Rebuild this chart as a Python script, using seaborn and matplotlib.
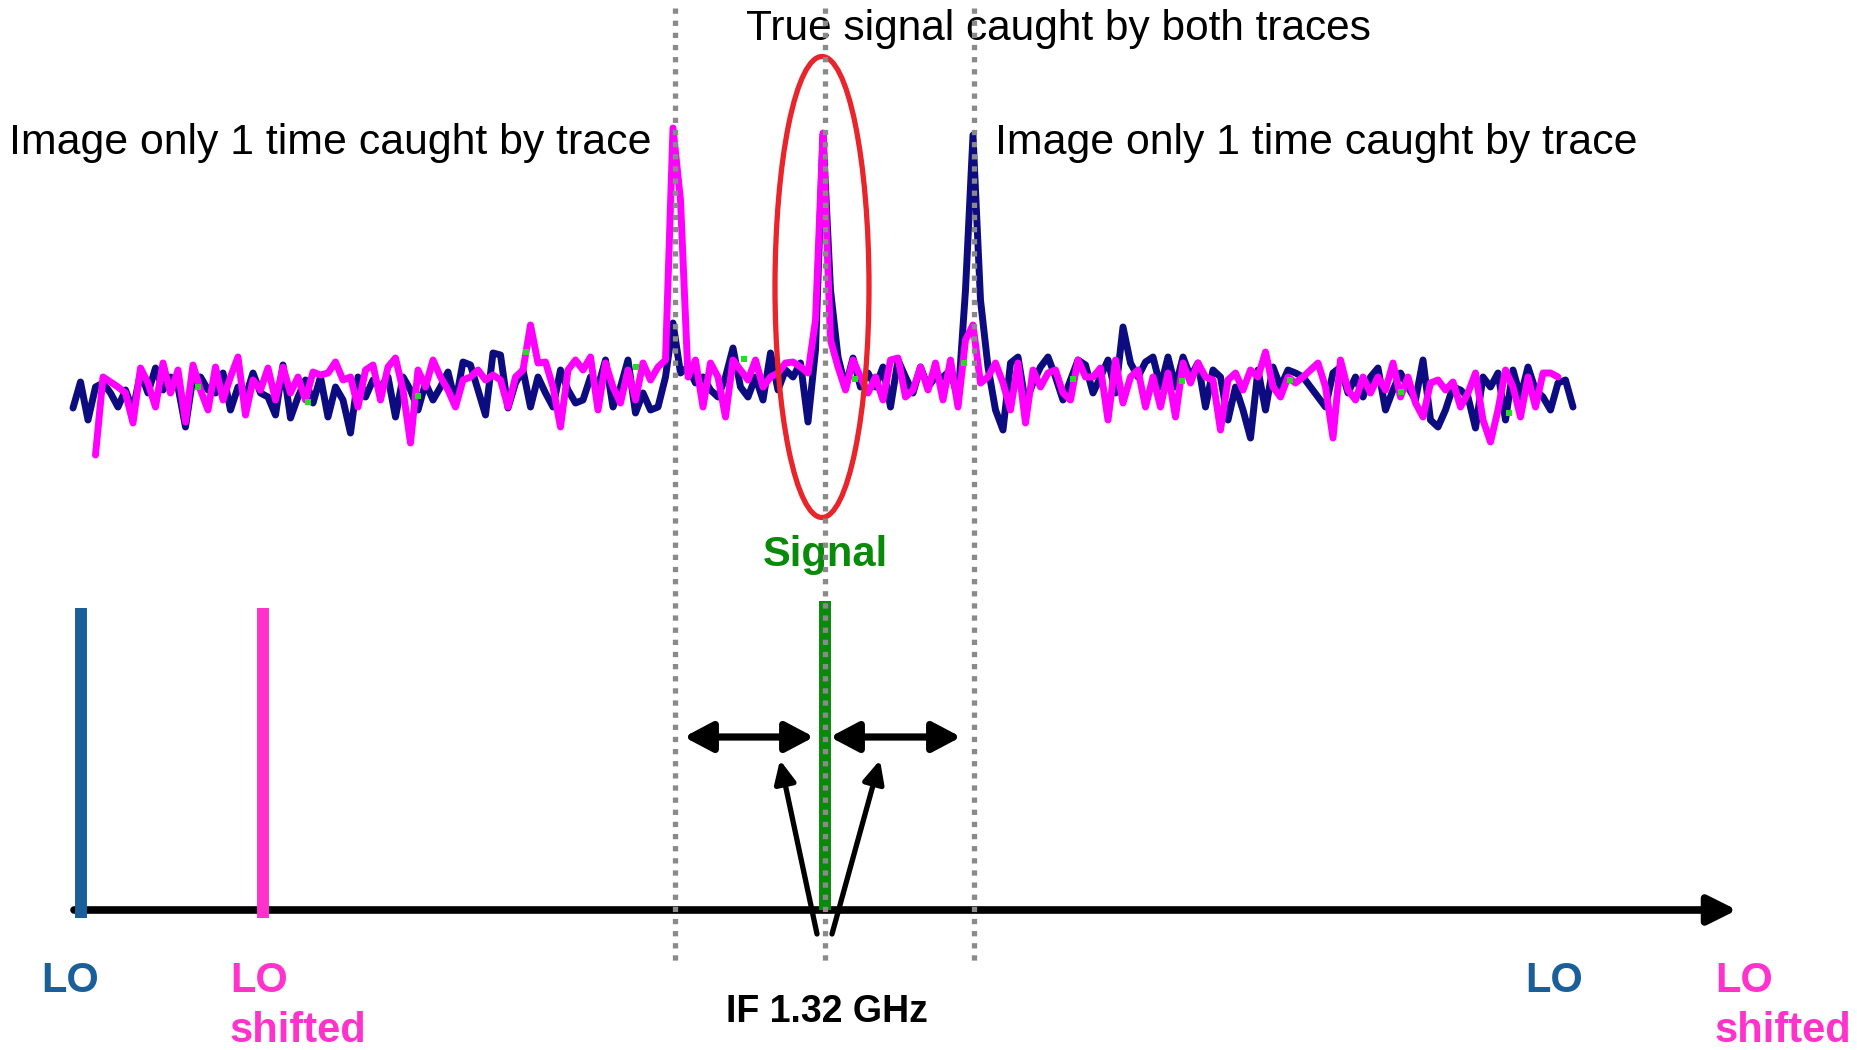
import numpy as np
import pandas as pd
import matplotlib
matplotlib.use("Agg")
import matplotlib.pyplot as plt
import seaborn as sns
from matplotlib.patches import Ellipse

sns.set_theme(style="white")
plt.rcParams['font.family'] = ['Liberation Sans', 'DejaVu Sans']

# ---------------- data (diagram units: horizontal = frequency axis, vertical = level, down is lower) -------------
trace_x = np.linspace(73, 1573, 201)          # frequency bins of the spectrum traces

trace_lo = [  # navy trace (LO)
    408, 382, 420, 387, 383, 393, 407, 390, 410, 373,
    393, 368, 390, 377, 387, 427, 377, 377, 390, 393,
    373, 410, 387, 397, 373, 393, 397, 415, 365, 418,
    397, 380, 403, 377, 417, 387, 400, 433, 377, 397,
    380, 387, 377, 417, 377, 390, 410, 383, 400, 387,
    372, 403, 362, 365, 390, 415, 353, 355, 408, 383,
    370, 407, 377, 393, 407, 370, 390, 403, 400, 377,
    387, 360, 407, 387, 360, 413, 393, 410, 407, 377,
    323, 373, 367, 383, 377, 390, 397, 377, 348, 387,
    397, 377, 400, 353, 390, 370, 377, 363, 422, 350,
    135, 290, 357, 387, 358, 387, 373, 387, 367, 407,
    360, 377, 393, 367, 387, 377, 377, 370, 400, 290,
    135, 300, 367, 410, 430, 363, 357, 403, 383, 367,
    357, 377, 400, 380, 360, 365, 393, 377, 360, 393,
    327, 363, 377, 362, 357, 387, 357, 387, 357, 377,
    363, 407, 370, 377, 420, 387, 410, 438, 370, 410,
    367, 387, 370, 373, 377, 387, 397, 407, 373, 367,
    393, 377, 397, 377, 368, 410, 390, 373, 387, 400,
    360, 420, 427, 410, 387, 390, 397, 428, 377, 387,
    373, 420, 370, 397, 367, 390, 397, 410, 383, 380,
    407]

nan = np.nan
trace_lo_shifted = [  # magenta trace (LO shifted)
    nan, nan, nan, 455, 377, 382, 387, 393, 423, 368,
    383, 407, 363, 393, 370, 422, 365, 390, 410, 367,
    400, 377, 357, 415, 380, 390, 368, 400, 367, 393,
    377, 400, 372, 375, 373, 362, 380, 377, 407, 370,
    365, 400, 367, 358, 390, 443, 370, 387, 360, 377,
    390, 407, 380, 377, 370, 380, 375, 380, 407, 377,
    370, 325, 363, 362, 387, 427, 370, 360, 370, 357,
    410, 363, 387, 403, 370, 400, 363, 380, 367, 360,
    128, 200, 377, 360, 407, 363, 377, 417, 360, 370,
    380, 360, 387, 377, 373, 363, 362, 367, 373, 320,
    133, 340, 367, 390, 360, 377, 393, 377, 400, 360,
    358, 397, 390, 367, 390, 363, 400, 360, 407, 340,
    325, 383, 377, 363, 383, 410, 363, 423, 370, 387,
    373, 370, 393, 400, 360, 377, 377, 368, 420, 360,
    403, 377, 370, 407, 377, 407, 373, 417, 363, 383,
    363, 377, 380, 430, 380, 373, 390, 370, 377, 352,
    387, 397, 377, 383, 377, 370, 363, 387, 438, 360,
    390, 400, 377, 393, 377, 390, 363, 397, 377, 403,
    417, 383, 380, 390, 382, 407, 393, 373, 420, 442,
    410, 370, 387, 417, 377, 407, 373, 373, 377, nan,
    nan]

marker_x = [198, 308, 418, 526, 636, 744, 855, 964, 1073, 1182, 1290, 1401, 1509]
marker_y = [387, 402, 396, 352, 367, 359, 379, 363, 379, 381, 380, 392, 413]

# frequency markers (image, true signal, image)
freq_lines = [675, 825, 974]
signal_freq = 825
lo_freqs = [81, 263]
lo_names = ["LO", "LO shifted"]

# ---------------- figure ----------------
fig = plt.figure(figsize=(18.58, 10.5), dpi=100)
ax = fig.add_axes([0, 0, 1, 1])

navy = "#0c0c80"
magenta = "#ff00ff"
lo_blue = "#1a5e9a"
lo_pink = "#ff33cc"
green = "#0a8a0a"
gray = "#8a8a8a"

df = pd.DataFrame({
    "freq": np.concatenate([trace_x, trace_x]),
    "level": np.array(trace_lo + trace_lo_shifted, dtype=float),
    "trace": ["LO"] * len(trace_lo) + ["LO shifted"] * len(trace_lo_shifted),
})
sns.lineplot(data=df, x="freq", y="level", hue="trace", hue_order=lo_names,
             palette={"LO": navy, "LO shifted": magenta}, estimator=None,
             sort=False, lw=5.0, legend=False, ax=ax, zorder=2,
             solid_joinstyle="round", solid_capstyle="round")
ax.scatter(marker_x, marker_y, marker="s", s=14, color="#22dd22", zorder=2.5, linewidths=0)
ax.set_xlim(0, 1858)
ax.set_ylim(1050, 0)
ax.axis("off")

# red ellipse around the true signal
ax.add_patch(Ellipse((822, 287), 94, 461, fill=False, ec="#e8252b", lw=3.8, zorder=3))

# LO bars and signal bar
ax.vlines(lo_freqs, 608, 918, colors=[lo_blue, lo_pink], lw=8.6, zorder=3)
ax.vlines([signal_freq], 601, 910, colors=[green], lw=8.6, zorder=3)

# frequency axis arrow
ax.annotate("", xy=(1737, 910), xytext=(74, 910),
            arrowprops=dict(arrowstyle="-|>,head_length=0.86,head_width=0.43",
                            lw=5.5, color="black", mutation_scale=20,
                            shrinkA=0, shrinkB=0), zorder=2.8)

# dotted frequency markers
ax.vlines(freq_lines, 8, 962, colors=gray, lw=3.8, linestyles=(0, (1, 1.3)), zorder=4)

# IF double arrows
for x0, x1 in [(684, 814), (830, 961)]:
    ax.annotate("", xy=(x1, 737), xytext=(x0, 737),
                arrowprops=dict(arrowstyle="<|-|>,head_length=0.85,head_width=0.45",
                                lw=5.2, color="black", mutation_scale=20,
                                shrinkA=0, shrinkB=0), zorder=5)
# slanted arrows from IF label
for (x0, y0), (x1, y1) in [((817, 934), (780, 760)), ((832, 934), (880, 760))]:
    ax.annotate("", xy=(x1, y1), xytext=(x0, y0),
                arrowprops=dict(arrowstyle="-|>,head_length=0.68,head_width=0.32",
                                lw=3.8, color="black", mutation_scale=20,
                                shrinkA=0, shrinkB=0), zorder=5)

# texts
ax.text(1058, 29, "True signal caught by both traces", fontsize=30.5,
        ha="center", va="center", color="black")
ax.text(9, 143, "Image only 1 time caught by trace", fontsize=30.8,
        ha="left", va="center", color="black")
ax.text(995, 143, "Image only 1 time caught by trace", fontsize=30.8,
        ha="left", va="center", color="black")
ax.text(825, 555, "Signal", fontsize=30, fontweight="bold", color=green,
        ha="center", va="center")
ax.text(827, 1022, "IF 1.32 GHz", fontsize=27, fontweight="bold", color="black",
        ha="center", va="baseline")

lab_kw = dict(fontsize=30, fontweight="bold", va="baseline")
ax.text(70, 992, "LO", color=lo_blue, ha="center", **lab_kw)
ax.text(230, 992, "LO", color=lo_pink, ha="left", **lab_kw)
ax.text(230, 1042, "shifted", color=lo_pink, ha="left", **lab_kw)
ax.text(1554, 992, "LO", color=lo_blue, ha="center", **lab_kw)
ax.text(1715, 992, "LO", color=lo_pink, ha="left", **lab_kw)
ax.text(1715, 1042, "shifted", color=lo_pink, ha="left", **lab_kw)

fig.savefig("out.png", dpi=100)
